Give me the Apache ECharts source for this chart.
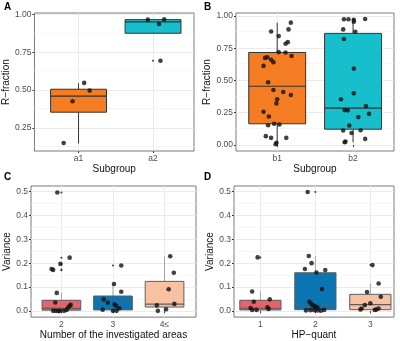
<!DOCTYPE html>
<html>
<head>
<meta charset="utf-8">
<script src="https://cdn.jsdelivr.net/npm/echarts@6/dist/echarts.min.js"></script>
<style>
  html, body { margin: 0; padding: 0; background: #fff; }
  #chart { width: 400px; height: 341px; }
</style>
</head>
<body>
<div id="chart"></div>
<script>
// ---- Panel A: R-fraction by subgroup (a1, a2) ----
const catsA = ['a1', 'a2'];
// box stats per group: [lower whisker, Q1, median, Q3, upper whisker]
const boxA = [
  [0.148, 0.354, 0.460, 0.506, 0.546],
  [0.877, 0.877, 0.952, 0.967, 0.970]
];
const valsA1 = [0.150, 0.427, 0.548, 0.497];
const jitA1 = [-0.20, -0.08, 0.075, 0.15];
const valsA2 = [0.967, 0.938, 0.970, 0.695];
const jitA2 = [-0.07, 0.08, 0.15, 0.10];
const outA = [[], [0.695]];

// ---- Panel B: R-fraction by subgroup (b1, b2) ----
const catsB = ['b1', 'b2'];
const boxB = [
  [0.008, 0.164, 0.455, 0.717, 0.948],
  [0.021, 0.122, 0.286, 0.865, 0.977]
];
const valsB1 = [0.880, 0.948, 0.844, 0.896, 0.797, 0.784, 0.720, 0.717, 0.690, 0.675,
                0.680, 0.660, 0.642, 0.613, 0.486, 0.426, 0.410, 0.387, 0.354, 0.322,
                0.257, 0.221, 0.164, 0.159, 0.153, 0.068, 0.055, 0.055, 0.016, 0.005];
const jitB1 = [-0.08, 0.18, 0.02, 0.15, 0.14, 0.11, 0.02, 0.11, 0.19, -0.16,
               -0.13, -0.08, -0.05, -0.18, -0.12, -0.05, 0.08, 0.18, 0.00, -0.01,
               -0.18, -0.11, -0.04, 0.03, -0.12, -0.15, -0.08, 0.12, -0.01, -0.02];
const valsB2 = [0.974, 0.974, 0.971, 0.955, 0.977, 0.896, 0.878, 0.821, 0.592, 0.400,
                0.354, 0.270, 0.268, 0.301, 0.241, 0.216, 0.151, 0.112, 0.114, 0.093,
                0.047, 0.021, 0.026];
const jitB2 = [-0.12, -0.06, 0.01, 0.01, 0.16, -0.13, 0.03, -0.12, 0.01, 0.01,
               -0.16, -0.11, -0.07, 0.17, 0.21, 0.07, -0.05, -0.13, 0.10, -0.02,
               0.16, -0.11, -0.10];
const outB = [[], []];

// ---- Panel C: variance by number of investigated areas ----
const catsC = ['2', '3', '4\u2264'];
const boxC = [
  [0.000, 0.004, 0.011, 0.045, 0.077],
  [0.000, 0.005, 0.032, 0.063, 0.113],
  [0.000, 0.017, 0.029, 0.124, 0.228]
];
const valsC1 = [0.495, 0.223, 0.197, 0.176, 0.172, 0.076, 0.036,
                0.001, 0.001, 0.000, 0.001, 0.001, 0.005, 0.015, 0.022, 0.026];
const jitC1 = [-0.08, 0.16, -0.02, -0.19, -0.16, -0.09, -0.12,
               -0.16, -0.11, -0.06, -0.03, 0.05, 0.10, 0.13, 0.16, 0.18];
const valsC2 = [0.190, 0.113, 0.081, 0.049, 0.035, 0.028, 0.022, 0.012, 0.006, 0.001, 0.001];
const jitC2 = [0.16, 0.02, 0.16, -0.18, -0.10, 0.03, 0.06, 0.12, -0.20, 0.00, 0.07];
const valsC3 = [0.229, 0.160, 0.091, 0.030, 0.024, 0.001, 0.008];
const jitC3 = [0.11, 0.18, 0.08, 0.19, -0.15, -0.13, 0.03];
const outC = [[0.495, 0.223, 0.197, 0.174, 0.170], [0.190], []];

// ---- Panel D: variance by HP-quant ----
const catsD = ['1', '2', '3'];
const boxD = [
  [0.000, 0.005, 0.012, 0.045, 0.082],
  [0.000, 0.006, 0.022, 0.160, 0.230],
  [0.005, 0.006, 0.027, 0.070, 0.115]
];
const valsD1 = [0.224, 0.082, 0.039, 0.049, 0.013, 0.005, 0.005, 0.016, 0.009];
const jitD1 = [-0.05, -0.15, -0.12, 0.17, -0.18, -0.15, -0.07, 0.13, 0.15];
const valsD2 = [0.497, 0.230, 0.200, 0.176, 0.171, 0.161, 0.092, 0.039,
                0.032, 0.025, 0.021, 0.018, 0.015,
                0.003, 0.004, 0.004, 0.003, 0.002, 0.005];
const jitD2 = [-0.14, -0.12, -0.07, -0.19, 0.18, 0.02, 0.12, -0.11,
               -0.08, -0.05, -0.02, 0.01, 0.04,
               -0.17, -0.09, -0.02, 0.04, 0.10, 0.16];
const valsD3 = [0.192, 0.115, 0.060, 0.080, 0.033, 0.025, 0.011, 0.007, 0.007, 0.011, 0.005];
const jitD3 = [0.04, 0.15, 0.19, -0.06, 0.00, -0.10, -0.16, -0.18, 0.11, 0.15, 0.08];
const outD = [[0.224], [0.497], [0.192]];

// ---- tick values ----
const ticksFraction = [0.00, 0.25, 0.50, 0.75, 1.00];
const minorFraction = [0.125, 0.375, 0.625, 0.875];
const ticksVariance = [0.0, 0.1, 0.2, 0.3, 0.4, 0.5];
const minorVariance = [0.05, 0.15, 0.25, 0.35, 0.45];

const FONT = 'Liberation Sans, Arial, Helvetica, sans-serif';
const BOX_WIDTH = 0.75;

const panels = [
  { letter: 'A', cats: catsA, box: boxA, vals: [valsA1, valsA2], jit: [jitA1, jitA2], out: outA,
    colors: ['#F47C22', '#17BFCC'], border: '#333333', whisker: '#333333',
    grid: { left: 31, top: 13, width: 163, height: 138 },
    xRange: [0.408, 2.55], yRange: [0.097, 1.011],
    ticks: ticksFraction, minor: minorFraction, digits: 2,
    xName: 'Subgroup', yName: 'R\u2212fraction', yGap: 17 },
  { letter: 'B', cats: catsB, box: boxB, vals: [valsB1, valsB2], jit: [jitB1, jitB2], out: outB,
    colors: ['#F47C22', '#17BFCC'], border: '#333333', whisker: '#333333',
    grid: { left: 236, top: 13, width: 158, height: 138 },
    xRange: [0.457, 2.54], yRange: [-0.047, 1.023],
    ticks: ticksFraction, minor: minorFraction, digits: 2,
    xName: 'Subgroup', yName: 'R\u2212fraction', yGap: 22 },
  { letter: 'C', cats: catsC, box: boxC, vals: [valsC1, valsC2, valsC3], jit: [jitC1, jitC2, jitC3], out: outC,
    colors: ['#E8626B', '#0B74B3', '#F7C2A2'], border: '#5e5e5e', whisker: '#a6a6a6',
    grid: { left: 31, top: 186, width: 165, height: 134 },
    xRange: [0.41, 3.61], yRange: [-0.025, 0.522],
    ticks: ticksVariance, minor: minorVariance, digits: 1,
    xName: 'Number of the investigated areas', yName: 'Variance', yGap: 14 },
  { letter: 'D', cats: catsD, box: boxD, vals: [valsD1, valsD2, valsD3], jit: [jitD1, jitD2, jitD3], out: outD,
    colors: ['#E8626B', '#0B74B3', '#F7C2A2'], border: '#5e5e5e', whisker: '#a6a6a6',
    grid: { left: 234, top: 186, width: 160, height: 134 },
    xRange: [0.52, 3.43], yRange: [-0.025, 0.522],
    ticks: ticksVariance, minor: minorVariance, digits: 1,
    xName: 'HP\u2212quant', yName: 'Variance', yGap: 15 }
];

const grids = [], xAxes = [], yAxes = [], series = [], graphics = [];

panels.forEach((p, i) => {
  const catPos = p.cats.map((_, k) => k + 1);
  const inRange = v => v >= p.yRange[0] && v <= p.yRange[1];
  const yTicks = p.ticks.filter(inRange);
  grids.push(Object.assign({ show: true, backgroundColor: '#fff', borderColor: '#7a7a7a', borderWidth: 1 }, p.grid));

  xAxes.push({
    gridIndex: i, type: 'value', min: p.xRange[0], max: p.xRange[1],
    axisLine: { show: false },
    axisTick: { show: true, length: 2, customValues: catPos, lineStyle: { color: '#333' } },
    axisLabel: { customValues: catPos, margin: 3, fontSize: 8.5, color: '#4d4d4d', fontFamily: FONT,
                 formatter: v => p.cats[Math.round(v) - 1] },
    splitLine: { show: true, lineStyle: { color: '#ebebeb', width: 1 } },
    name: p.xName, nameLocation: 'middle', nameGap: 12,
    nameTextStyle: { fontSize: 10, color: '#111', fontFamily: FONT }
  });

  yAxes.push({
    gridIndex: i, type: 'value', min: p.yRange[0], max: p.yRange[1],
    axisLine: { show: false },
    axisTick: { show: true, length: 2, customValues: yTicks, lineStyle: { color: '#333' } },
    axisLabel: { customValues: yTicks, margin: 3, fontSize: 8.5, color: '#4d4d4d', fontFamily: FONT,
                 formatter: v => v.toFixed(p.digits) },
    splitLine: { show: true, lineStyle: { color: '#ebebeb', width: 1 } },
    name: p.yName, nameLocation: 'middle', nameGap: p.yGap,
    nameTextStyle: { fontSize: 10, color: '#111', fontFamily: FONT }
  });

  // minor horizontal gridlines
  series.push({
    type: 'line', xAxisIndex: i, yAxisIndex: i, data: [], silent: true, z: 1,
    markLine: {
      z: 1, silent: true, symbol: 'none', animation: false,
      label: { show: false },
      lineStyle: { color: '#f2f2f2', width: 0.7, type: 'solid' },
      data: p.minor.filter(inRange).map(v => ({ yAxis: v }))
    }
  });

  // boxes: whiskers, box and median
  const colors = p.colors, border = p.border, whisker = p.whisker;
  series.push({
    type: 'custom', xAxisIndex: i, yAxisIndex: i, z: 2,
    encode: { x: 0, y: [1, 2, 3, 4, 5] },
    data: p.box.map((b, k) => [k + 1].concat(b)),
    renderItem: (params, api) => {
      const x = api.value(0);
      const lo = api.coord([x, api.value(1)]);
      const q1 = api.coord([x, api.value(2)]);
      const md = api.coord([x, api.value(3)]);
      const q3 = api.coord([x, api.value(4)]);
      const hi = api.coord([x, api.value(5)]);
      const half = api.size([BOX_WIDTH, 0])[0] / 2;
      return {
        type: 'group',
        children: [
          { type: 'line', shape: { x1: lo[0], y1: lo[1], x2: q1[0], y2: q1[1] },
            style: { stroke: whisker, lineWidth: 1 } },
          { type: 'line', shape: { x1: q3[0], y1: q3[1], x2: hi[0], y2: hi[1] },
            style: { stroke: whisker, lineWidth: 1 } },
          { type: 'rect', shape: { x: q3[0] - half, y: q3[1], width: 2 * half, height: q1[1] - q3[1] },
            style: { fill: colors[params.dataIndex], stroke: border, lineWidth: 1 } },
          { type: 'line', shape: { x1: md[0] - half, y1: md[1], x2: md[0] + half, y2: md[1] },
            style: { stroke: border, lineWidth: 1.2 } }
        ]
      };
    }
  });

  // outliers drawn by the boxplot
  const outData = [];
  p.out.forEach((arr, k) => arr.forEach(v => outData.push([k + 1, v])));
  series.push({
    type: 'scatter', xAxisIndex: i, yAxisIndex: i, z: 3, symbolSize: 2,
    itemStyle: { color: '#111' }, data: outData
  });

  // jittered observations
  const ptData = [];
  p.vals.forEach((arr, k) => arr.forEach((v, n) => ptData.push([k + 1 + p.jit[k][n], v])));
  series.push({
    type: 'scatter', xAxisIndex: i, yAxisIndex: i, z: 4, symbolSize: 4.6,
    itemStyle: { color: '#111' }, data: ptData
  });

  graphics.push({
    type: 'text', left: p.grid.left < 100 ? 4 : 204, top: p.grid.top < 100 ? 2 : 172,
    style: { text: p.letter, font: 'bold 10px ' + FONT, fill: '#000' }
  });
});

const chart = echarts.init(document.getElementById('chart'), null, { renderer: 'canvas' });
chart.setOption({
  animation: false,
  backgroundColor: '#fff',
  grid: grids, xAxis: xAxes, yAxis: yAxes, series: series, graphic: graphics
});
</script>
</body>
</html>
